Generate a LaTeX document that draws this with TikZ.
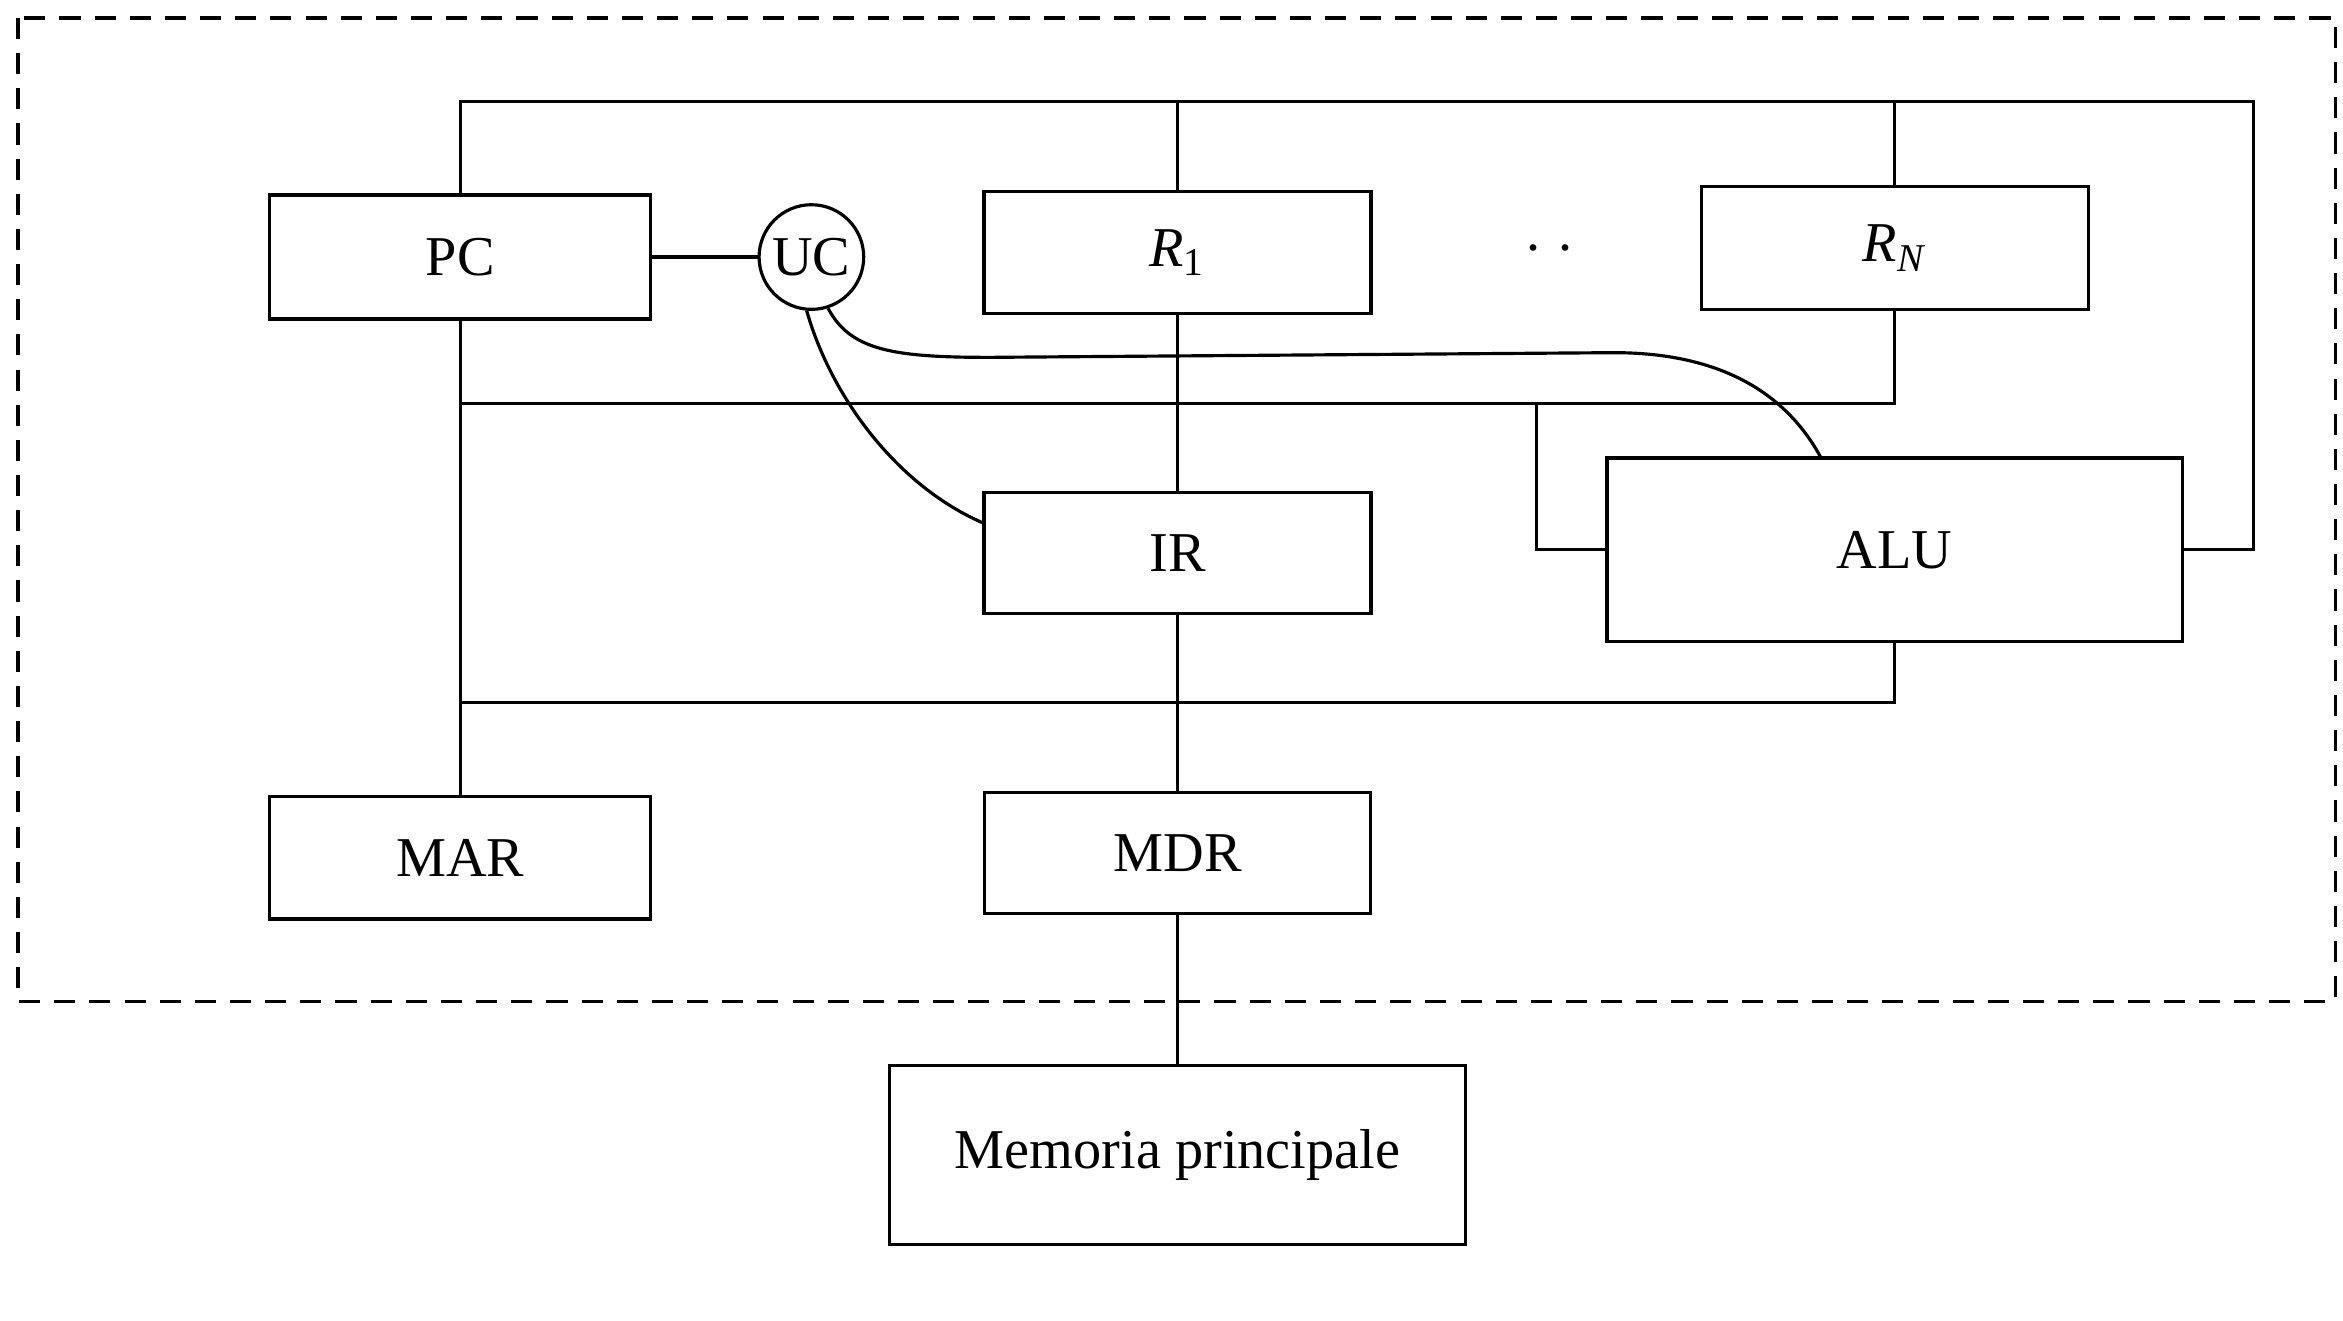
\documentclass[tikz,border=0pt]{standalone}
\usepackage{fontspec}
\setmainfont{Liberation Serif}
\usetikzlibrary{calc}
\newlength\uu
\setlength\uu{0.14943mm}
\begin{document}
\begin{tikzpicture}[x=0.014943cm,y=-0.014943cm,
  every node/.style={font=\fontsize{16}{18}\selectfont},
  box/.style={draw,line width=0.9pt,inner sep=0pt},
  wire/.style={line width=0.9pt},
  border/.style={line width=0.9pt,dash pattern=on 6pt off 4pt}]
\useasboundingbox (0,0) rectangle (1568,884);
\draw[border] (12,12) rectangle (1563,670);

\node[box,minimum width=255*\uu,minimum height=83*\uu] (PC) at (308,172) {PC};
\node[draw,circle,line width=0.9pt,minimum size=70*\uu,inner sep=0pt] (UC) at (543,172) {UC};
\node[box,minimum width=259*\uu,minimum height=82*\uu] (R1) at (788,169) {\textit{R}\textsubscript{1}};
\node (dots) at (1037,166) {.\,\,.};
\node[box,minimum width=259*\uu,minimum height=82*\uu] (RN) at (1268,166) {\textit{R}\textsubscript{\textit{N}}};
\node[box,minimum width=259*\uu,minimum height=81*\uu] (IR) at (788,370) {IR};
\node[box,minimum width=385*\uu,minimum height=123*\uu] (ALU) at (1268,368) {ALU};
\node[box,minimum width=255*\uu,minimum height=82*\uu] (MAR) at (308,574) {MAR};
\node[box,minimum width=258*\uu,minimum height=81*\uu] (MDR) at (788,571) {MDR};
\node[box,minimum width=385*\uu,minimum height=120*\uu] (Mem) at (788,773) {Memoria principale};

\coordinate (topR) at (1508,68);
\coordinate (midJ) at (1028,270);
\coordinate (low) at (308,470);
\coordinate (aluin) at (1219,307);
\coordinate (irin) at (658,350);

% top bus
\draw[wire] (PC.north) |- (topR) |- (ALU.east);
\draw[wire] (R1.north) -- (R1.north |- topR);
\draw[wire] (RN.north) -- (RN.north |- topR);
% middle bus
\draw[wire] (PC.south) -- (MAR.north);
\draw[wire] (RN.south) |- (PC.south |- midJ);
\draw[wire] (ALU.west) -| (midJ);
% lower bus
\draw[wire] (ALU.south) |- (low);
% vertical data path
\draw[wire] (R1.south) -- (IR.north);
\draw[wire] (IR.south) -- (MDR.north);
\draw[wire] (MDR.south) -- (Mem.north);
% control unit
\draw[wire] (PC.east) -- (UC.west);
\draw[wire] (UC.-72) .. controls (570,236) and (600,240) .. (680,239)
  -- (1080,236) .. controls (1150,236) and (1195,262) .. (aluin);
\draw[wire] (UC.-95) .. controls (556,265) and (600,325) .. (irin);
\end{tikzpicture}
\end{document}
